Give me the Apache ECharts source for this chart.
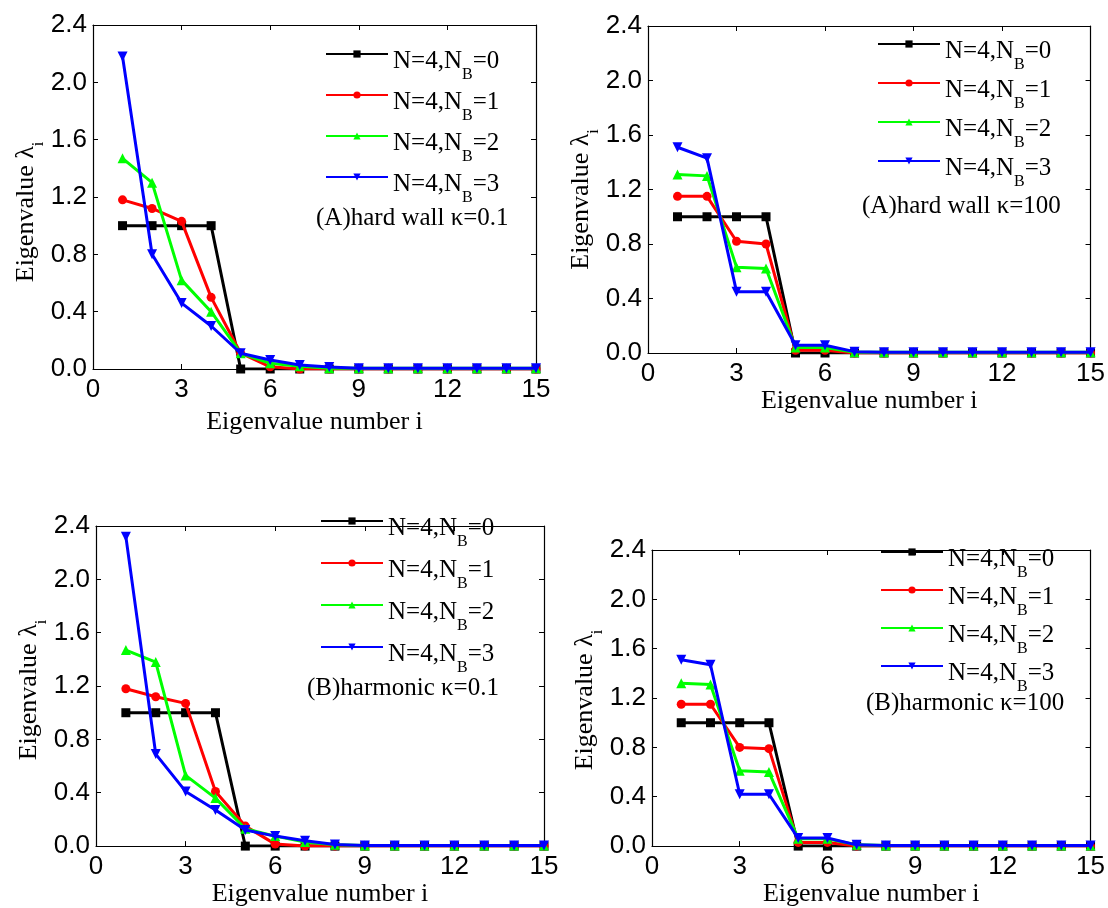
<!DOCTYPE html>
<html>
<head>
<meta charset="utf-8">
<script src="https://cdn.jsdelivr.net/npm/echarts@6/dist/echarts.min.js"></script>
<style>
  html, body { margin: 0; padding: 0; background: #ffffff; }
  #chart { width: 1108px; height: 908px; }
</style>
</head>
<body>
<div id="chart"></div>
<script>
// Eigenvalue number i
const eigenIndex = [1, 2, 3, 4, 5, 6, 7, 8, 9, 10, 11, 12, 13, 14, 15];
const xTickValues = [0, 3, 6, 9, 12, 15];
const yTickValues = [0.0, 0.4, 0.8, 1.2, 1.6, 2.0, 2.4];
const bridgeCounts = ['0', '1', '2', '3'];

// (A) hard wall, kappa = 0.1
const hardLowNB0 = [1.00, 1.00, 1.00, 1.00, 0.00, 0.00, 0.00, 0.00, 0.00, 0.00, 0.00, 0.00, 0.00, 0.00, 0.00];
const hardLowNB1 = [1.18, 1.12, 1.03, 0.50, 0.11, 0.015, 0.00, 0.00, 0.00, 0.00, 0.00, 0.00, 0.00, 0.00, 0.00];
const hardLowNB2 = [1.47, 1.30, 0.62, 0.40, 0.11, 0.04, 0.02, 0.005, 0.005, 0.005, 0.005, 0.005, 0.005, 0.005, 0.005];
const hardLowNB3 = [2.18, 0.80, 0.46, 0.30, 0.11, 0.063, 0.028, 0.014, 0.005, 0.005, 0.005, 0.005, 0.005, 0.005, 0.005];

// (A) hard wall, kappa = 100
const hardHighNB0 = [1.00, 1.00, 1.00, 1.00, 0.00, 0.00, 0.00, 0.00, 0.00, 0.00, 0.00, 0.00, 0.00, 0.00, 0.00];
const hardHighNB1 = [1.15, 1.15, 0.82, 0.80, 0.02, 0.02, 0.00, 0.00, 0.00, 0.00, 0.00, 0.00, 0.00, 0.00, 0.00];
const hardHighNB2 = [1.31, 1.30, 0.63, 0.62, 0.04, 0.04, 0.005, 0.005, 0.005, 0.005, 0.005, 0.005, 0.005, 0.005, 0.005];
const hardHighNB3 = [1.51, 1.43, 0.45, 0.45, 0.057, 0.057, 0.01, 0.005, 0.005, 0.005, 0.005, 0.005, 0.005, 0.005, 0.005];

// (B) harmonic, kappa = 0.1
const harmLowNB0 = [1.00, 1.00, 1.00, 1.00, 0.00, 0.00, 0.00, 0.00, 0.00, 0.00, 0.00, 0.00, 0.00, 0.00, 0.00];
const harmLowNB1 = [1.18, 1.12, 1.07, 0.41, 0.15, 0.015, 0.00, 0.00, 0.00, 0.00, 0.00, 0.00, 0.00, 0.00, 0.00];
const harmLowNB2 = [1.47, 1.38, 0.53, 0.36, 0.13, 0.075, 0.03, 0.01, 0.005, 0.005, 0.005, 0.005, 0.005, 0.005, 0.005];
const harmLowNB3 = [2.32, 0.69, 0.41, 0.27, 0.12, 0.075, 0.04, 0.012, 0.005, 0.005, 0.005, 0.005, 0.005, 0.005, 0.005];

// (B) harmonic, kappa = 100
const harmHighNB0 = [1.00, 1.00, 1.00, 1.00, 0.00, 0.00, 0.00, 0.00, 0.00, 0.00, 0.00, 0.00, 0.00, 0.00, 0.00];
const harmHighNB1 = [1.15, 1.15, 0.80, 0.79, 0.03, 0.03, 0.00, 0.00, 0.00, 0.00, 0.00, 0.00, 0.00, 0.00, 0.00];
const harmHighNB2 = [1.32, 1.31, 0.61, 0.60, 0.06, 0.06, 0.01, 0.005, 0.005, 0.005, 0.005, 0.005, 0.005, 0.005, 0.005];
const harmHighNB3 = [1.51, 1.47, 0.42, 0.42, 0.065, 0.065, 0.01, 0.005, 0.005, 0.005, 0.005, 0.005, 0.005, 0.005, 0.005];

const panelCaptions = ['(A)hard wall \u03ba=0.1', '(A)hard wall \u03ba=100', '(B)harmonic \u03ba=0.1', '(B)harmonic \u03ba=100'];
const panelSeries = [
  [hardLowNB0, hardLowNB1, hardLowNB2, hardLowNB3],
  [hardHighNB0, hardHighNB1, hardHighNB2, hardHighNB3],
  [harmLowNB0, harmLowNB1, harmLowNB2, harmLowNB3],
  [harmHighNB0, harmHighNB1, harmHighNB2, harmHighNB3]
];

// ---- styling / layout ----
const SERIF = '"Liberation Serif", "Times New Roman", serif';
const SANS = '"Liberation Sans", Arial, sans-serif';
const lineColors = ['#000000', '#ff0000', '#00ff00', '#0000ff'];
const lineSymbols = ['rect', 'circle', 'triangle', 'triangle'];
const symbolRotations = [0, 0, 0, 180];
const symbolSizes = [9, 9, 10, 10];

// yShift moves the rotated y-axis title down along the axis (px)
const layouts = [
  { grid: { left: 93, top: 25, width: 443, height: 344 }, xGap: 40, yGap: 46, yShift: 15,
    legend: { left: 325, top: 41, gap: -1 }, caption: { x: 316, y: 220 } },
  { grid: { left: 648, top: 26, width: 443, height: 327 }, xGap: 34, yGap: 48, yShift: 10,
    legend: { left: 877, top: 31, gap: -3 }, caption: { x: 862, y: 208 } },
  { grid: { left: 96, top: 526, width: 448, height: 324 }, xGap: 28, yGap: 47, yShift: 4,
    legend: { left: 320, top: 508, gap: 0 }, caption: { x: 307, y: 690 } },
  { grid: { left: 652, top: 550, width: 441, height: 300 }, xGap: 14, yGap: 48, yShift: 2,
    legend: { left: 880, top: 539, gap: -4 }, caption: { x: 866, y: 705 } }
];

const seriesName = (k) => 'N=4,NB=' + bridgeCounts[k];

const richText = {
  t: { fontFamily: SERIF, fontSize: 25, color: '#000', lineHeight: 26, padding: [8, 0, 8, 0], verticalAlign: 'top' },
  s: { fontFamily: SERIF, fontSize: 16, color: '#000', lineHeight: 14, padding: [26, 0, 0, 0], verticalAlign: 'top' }
};
const axisRich = {
  t: { fontFamily: SERIF, fontSize: 26, color: '#000', lineHeight: 26, padding: [8, 0, 8, 0], verticalAlign: 'top' },
  s: { fontFamily: SERIF, fontSize: 16, color: '#000', lineHeight: 14, padding: [26, 0, 0, 0], verticalAlign: 'top' }
};

const grids = [], xAxes = [], yAxes = [], series = [], legends = [], graphics = [];

layouts.forEach((L, p) => {
  grids.push(Object.assign({ show: false, containLabel: false }, L.grid));

  const baseX = {
    type: 'value', gridIndex: p, min: 0, max: 15, interval: 3,
    axisLine: { show: true, onZero: false, lineStyle: { color: '#000', width: 1.2 } },
    axisTick: { show: true, inside: true, length: 5, lineStyle: { color: '#000' } },
    splitLine: { show: false }
  };
  const baseY = {
    type: 'value', gridIndex: p, min: 0, max: 2.4, interval: 0.4,
    axisLine: { show: true, onZero: false, lineStyle: { color: '#000', width: 1.2 } },
    axisTick: { show: true, inside: true, length: 5, lineStyle: { color: '#000' } },
    splitLine: { show: false }
  };

  xAxes.push(Object.assign({}, baseX, {
    position: 'bottom',
    axisLabel: { show: true, fontFamily: SANS, fontSize: 26, color: '#000', margin: 8,
      formatter: (v) => xTickValues.includes(v) ? String(v) : '' },
    name: 'Eigenvalue number i', nameLocation: 'middle', nameGap: L.xGap,
    nameTextStyle: { fontFamily: SERIF, fontSize: 26, color: '#000' }
  }));
  yAxes.push(Object.assign({}, baseY, {
    position: 'left',
    axisLabel: { show: true, fontFamily: SANS, fontSize: 26, color: '#000', margin: 6,
      formatter: (v) => yTickValues.some((t) => Math.abs(t - v) < 1e-6) ? v.toFixed(1) : '' },
    name: '{t|Eigenvalue \u03bb}{s|i}', nameLocation: 'middle', nameGap: L.yGap,
    nameTextStyle: { rich: axisRich, padding: [0, 2 * L.yShift, 0, 0] }
  }));

  panelSeries[p].forEach((vals, k) => {
    series.push({
      type: 'line', name: seriesName(k), xAxisIndex: p, yAxisIndex: p,
      data: eigenIndex.map((x, j) => [x, vals[j]]),
      color: lineColors[k],
      lineStyle: { width: 3, color: lineColors[k] },
      itemStyle: { color: lineColors[k] },
      symbol: lineSymbols[k], symbolRotate: symbolRotations[k], symbolSize: symbolSizes[k],
      showAllSymbol: true, animation: false, z: 2 + k
    });
  });

  legends.push({
    orient: 'vertical', left: L.legend.left, top: L.legend.top, padding: 0,
    itemWidth: 62, itemHeight: 9, itemGap: L.legend.gap,
    data: bridgeCounts.map((c, k) => seriesName(k)),
    formatter: (name) => '{t|N=4,N}{s|B}{t|=' + name.slice(-1) + '}',
    textStyle: { rich: richText },
    selectedMode: false
  });

  graphics.push({
    type: 'text', left: L.caption.x, top: L.caption.y - 14,
    style: { text: panelCaptions[p], font: '25px ' + SERIF, fill: '#000' }
  });
});

// mirrored frame: top and right axes carry inward ticks only
layouts.forEach((L, p) => {
  xAxes.push({
    type: 'value', gridIndex: p, min: 0, max: 15, interval: 3, position: 'top',
    axisLine: { show: true, onZero: false, lineStyle: { color: '#000', width: 1.2 } },
    axisTick: { show: true, inside: true, length: 5, lineStyle: { color: '#000' } },
    axisLabel: { show: false }, splitLine: { show: false }
  });
  yAxes.push({
    type: 'value', gridIndex: p, min: 0, max: 2.4, interval: 0.4, position: 'right',
    axisLine: { show: true, onZero: false, lineStyle: { color: '#000', width: 1.2 } },
    axisTick: { show: true, inside: true, length: 5, lineStyle: { color: '#000' } },
    axisLabel: { show: false }, splitLine: { show: false }
  });
});

const chart = echarts.init(document.getElementById('chart'), null, { renderer: 'canvas' });
chart.setOption({
  backgroundColor: '#ffffff',
  animation: false,
  grid: grids,
  xAxis: xAxes,
  yAxis: yAxes,
  legend: legends,
  series: series,
  graphic: graphics
});
</script>
</body>
</html>
